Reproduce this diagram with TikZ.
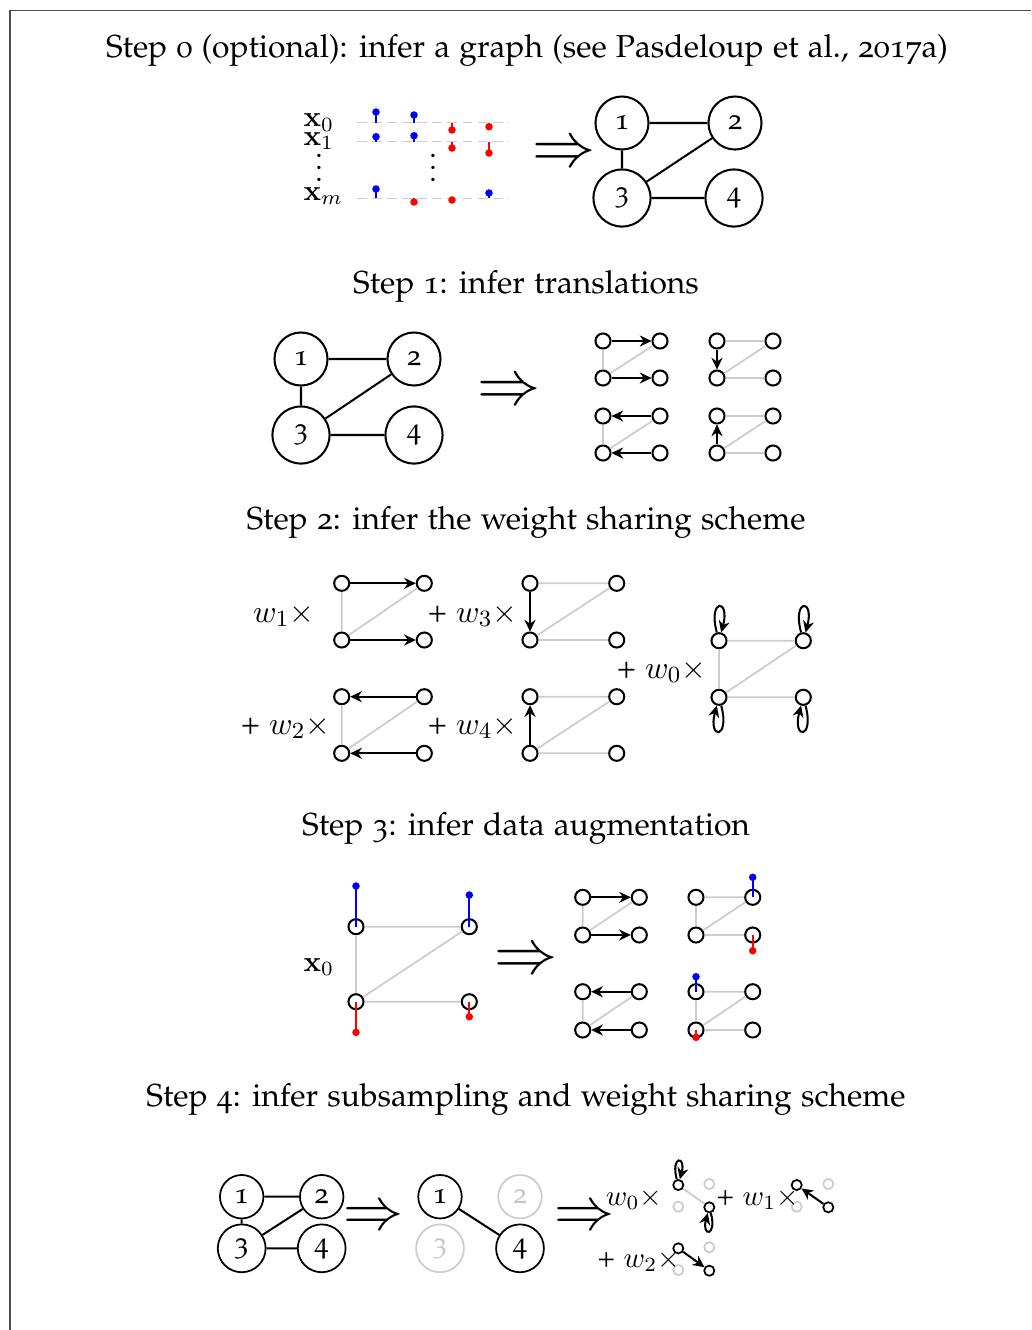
\documentclass[tikz,border=0pt]{standalone}
\usepackage[T1]{fontenc}
\usepackage{graphicx}
\renewcommand{\rmdefault}{pplj}
\usetikzlibrary{arrows.meta}
\newcommand{\elvn}{\fontsize{10.95}{13.6}\selectfont}
\tikzset{
 frame/.style={draw=black!70, line width=0.35pt},
 title/.style={anchor=base, inner sep=0pt, font=\elvn},
 bn/.style={circle, draw, line width=0.7pt, inner sep=0pt, fill=white},
 bnA/.style={bn, minimum size=18.3pt},
 bnB/.style={bn, minimum size=19.7pt},
 cnA/.style={bn, minimum size=15pt, line width=0.6pt},
 cnB/.style={bn, minimum size=16.5pt, line width=0.6pt},
 gry/.style={draw=gray!40, text=gray!45},
 sn/.style={circle, draw, line width=0.7pt, inner sep=0pt, minimum size=5.2pt, fill=white},
 tn/.style={circle, draw, line width=0.6pt, inner sep=0pt, minimum size=3.5pt},
 tng/.style={tn, draw=gray!40},
 ge/.style={draw=gray!40, line width=0.6pt},
 be/.style={line width=0.7pt},
 ar/.style={be, -{Stealth[length=4pt,width=3.8pt,inset=1.3pt]}},
 imp/.style={font=\huge, inner sep=0pt},
 dl/.style={draw=gray!40, line width=0.5pt, dash pattern=on 3.4pt off 1.8pt},
 stem/.style={line width=0.7pt},
 dot/.style={circle, inner sep=0pt, minimum size=2.6pt},
 lab/.style={inner sep=0pt},
 lab2/.style={inner sep=0pt, anchor=base east, font=\elvn},
}
\newcommand{\sgl}[5]{\coordinate (#1b) at (#2,#3); \node[dot, fill=#5] (#1d) at (#2,#4) {}; \draw[stem, draw=#5] (#1b) -- (#1d.center);}
\newcommand{\nsgl}[4]{\node[dot, fill=#4] (#1d) at (#3) {}; \draw[stem, draw=#4] (#2.center) -- (#1d.center);}
\newcommand{\sgraph}[5]{%
  \node[sn] (#1a) at (#2,#3) {};
  \node[sn] (#1b) at ({#2+#4},#3) {};
  \node[sn] (#1c) at (#2,{#3+#5}) {};
  \node[sn] (#1d) at ({#2+#4},{#3+#5}) {};
  \draw[ge] (#1a)--(#1b) (#1a)--(#1c) (#1c)--(#1b) (#1c)--(#1d);
}
\newcommand{\bigimp}{\scalebox{1.05}{$\Rightarrow$}}
\begin{document}
\begin{tikzpicture}[x=0.345pt,y=-0.345pt]
\useasboundingbox (0,0) rectangle (1031,1330);
\coordinate (fbl) at (10,1330); \coordinate (ftl) at (10,10); \coordinate (ftr) at (1031,10);
\draw[frame] (fbl)--(ftl)--(ftr);

% titles
\node[title] (t0) at (527,57) {Step 0 (optional): infer a graph (see Pasdeloup et al., 2017a)};
\node[title] (t1) at (526,293) {Step 1: infer translations};
\node[title] (t2) at (526,529) {Step 2: infer the weight sharing scheme};
\node[title] (t3) at (526,835) {Step 3: infer data augmentation};
\node[title] (t4) at (526,1106) {Step 4: infer subsampling and weight sharing scheme};

% ---------- Step 0
\node[lab, anchor=base west] (lx0) at (303,126.7) {$\mathbf{x}_0$};
\node[lab, anchor=base west] (lx1) at (303,145) {$\mathbf{x}_1$};
\node[lab, anchor=base] (lvd) at (319,181) {$\vdots$};
\node[lab, anchor=base west] (lxm) at (303,200) {$\mathbf{x}_m$};
\node[lab, anchor=base] (vd2) at (433,181) {$\vdots$};
\coordinate (d0a) at (357,122.7); \coordinate (d0b) at (508,122.7);
\coordinate (d1a) at (357,141.7); \coordinate (d1b) at (508,141.7);
\coordinate (dma) at (357,198.3); \coordinate (dmb) at (508,198.3);
\draw[dl] (d0a)--(d0b); \draw[dl] (d1a)--(d1b); \draw[dl] (dma)--(dmb);
\sgl{r0c1}{376}{122.7}{112}{blue}
\sgl{r0c2}{414}{122.7}{115}{blue}
\sgl{r0c3}{452}{122.7}{130}{red}
\sgl{r0c4}{489}{122.7}{126.7}{red}
\sgl{r1c1}{376}{141.7}{136.7}{blue}
\sgl{r1c2}{414}{141.7}{135.7}{blue}
\sgl{r1c3}{452}{141.7}{148}{red}
\sgl{r1c4}{489}{141.7}{153}{red}
\sgl{rmc1}{376}{198.3}{189}{blue}
\sgl{rmc2}{414}{198.3}{202}{red}
\sgl{rmc3}{452}{198.3}{200}{red}
\sgl{rmc4}{489}{198.3}{193}{blue}
\node[imp] (i0) at (564,155) {\bigimp};
\node[bnA] (g01) at (622,123) {1};
\node[bnA] (g02) at (735,123) {2};
\node[bnB] (g03) at (622,198) {3};
\node[bnB] (g04) at (734,198) {4};
\draw[be] (g01)--(g02) (g01)--(g03) (g03)--(g02) (g03)--(g04);

% ---------- Step 1
\node[bnA] (g11) at (301,359) {1};
\node[bnA] (g12) at (414,359) {2};
\node[bnB] (g13) at (301,435) {3};
\node[bnB] (g14) at (414,435) {4};
\draw[be] (g11)--(g12) (g11)--(g13) (g13)--(g12) (g13)--(g14);
\node[imp] (i1) at (509,393) {\bigimp};
\sgraph{sA}{603}{341}{57}{37}
\sgraph{sB}{717}{341}{56}{37}
\sgraph{sC}{603}{416}{57}{37}
\sgraph{sD}{717}{416}{56}{37}
\draw[ar] (sAa)--(sAb); \draw[ar] (sAc)--(sAd);
\draw[ar] (sBa)--(sBc);
\draw[ar] (sCb)--(sCa); \draw[ar] (sCd)--(sCc);
\draw[ar] (sDc)--(sDa);

% ---------- Step 2
\sgraph{wA}{341.7}{583.3}{82.6}{56.7}
\sgraph{wC}{530}{583.3}{86.7}{56.7}
\sgraph{wB}{341.7}{696.7}{82.6}{56.6}
\sgraph{wD}{530}{696.7}{86.7}{56.6}
\sgraph{wO}{719}{640.7}{84.3}{56.6}
\draw[ar] (wAa)--(wAb); \draw[ar] (wAc)--(wAd);
\draw[ar] (wCa)--(wCc);
\draw[ar] (wBb)--(wBa); \draw[ar] (wBd)--(wBc);
\draw[ar] (wDc)--(wDa);
\draw[ar] (wOa) to[loop above, min distance=4.3mm] (wOa);
\draw[ar] (wOb) to[loop above, min distance=4.3mm] (wOb);
\draw[ar] (wOc) to[loop below, min distance=4.3mm] (wOc);
\draw[ar] (wOd) to[loop below, min distance=4.3mm] (wOd);
\node[lab2] (lw1) at (315,622) {$w_1\times$};
\node[lab2] (lw3) at (518,622) {+ $w_3\times$};
\node[lab2] (lw2) at (331,734) {+ $w_2\times$};
\node[lab2] (lw4) at (518,734) {+ $w_4\times$};
\node[lab2] (lw0) at (707,678) {+ $w_0\times$};

% ---------- Step 3
\node[lab, anchor=base west] (lx03) at (303,971) {$\mathbf{x}_0$};
\sgraph{xA}{356}{926.7}{113.3}{75}
\nsgl{xAs1}{xAa}{356,886}{blue}
\nsgl{xAs2}{xAb}{469.3,895}{blue}
\nsgl{xAs3}{xAc}{356,1032.3}{red}
\nsgl{xAs4}{xAd}{469.3,1016.7}{red}
\node[imp] (i3) at (526,962) {\bigimp};
\sgraph{yA}{582.7}{897.3}{56.6}{37.7}
\sgraph{yB}{696}{897.3}{56.7}{37.7}
\sgraph{yC}{582.7}{991.7}{56.6}{38.3}
\sgraph{yD}{696}{991.7}{56.7}{38.3}
\draw[ar] (yAa)--(yAb); \draw[ar] (yAc)--(yAd);
\draw[ar] (yCb)--(yCa); \draw[ar] (yCd)--(yCc);
\nsgl{yBs1}{yBb}{752.7,877.3}{blue}
\nsgl{yBs2}{yBd}{752.7,950.7}{red}
\nsgl{yDs1}{yDa}{696,976.7}{blue}
\nsgl{yDs2}{yDc}{696,1037.3}{red}

% ---------- Step 4
\node[cnA] (h11) at (241.7,1196.7) {1};
\node[cnA] (h12) at (321.7,1196.7) {2};
\node[cnB] (h13) at (241.7,1248.3) {3};
\node[cnB] (h14) at (321.7,1248.3) {4};
\draw[be] (h11)--(h12) (h11)--(h13) (h13)--(h12) (h13)--(h14);
\node[imp] (i41) at (373.3,1218.3) {$\Rightarrow$};
\node[cnA] (h21) at (440,1196.7) {1};
\node[cnA, gry] (h22) at (520,1196.7) {2};
\node[cnB, gry] (h23) at (440,1248.3) {3};
\node[cnB] (h24) at (520,1248.3) {4};
\draw[be] (h21)--(h24);
\node[imp] (i42) at (585,1218.3) {$\Rightarrow$};
% w0 small graph
\node[tn] (u0a) at (678.3,1185) {};
\node[tng] (u0b) at (709.3,1184) {};
\node[tng] (u0c) at (678.3,1206.7) {};
\node[tn] (u0d) at (709.3,1207.3) {};
\draw[ge] (u0a)--(u0d);
\draw[ar] (u0a) to[loop above, min distance=3mm] (u0a);
\draw[ar] (u0d) to[loop below, min distance=3mm] (u0d);
% w1 small graph
\node[tn] (u1a) at (796.7,1185) {};
\node[tng] (u1b) at (828.3,1184) {};
\node[tng] (u1c) at (796.7,1206.7) {};
\node[tn] (u1d) at (828.3,1207.3) {};
\draw[ar] (u1d)--(u1a);
% w2 small graph
\node[tn] (u2a) at (678.3,1248.3) {};
\node[tng] (u2b) at (709.3,1247.3) {};
\node[tng] (u2c) at (678.3,1270) {};
\node[tn] (u2d) at (709.3,1270.7) {};
\draw[ar] (u2a)--(u2d);
\node[lab, anchor=base] (lv0) at (634,1205) {$w_0\times$};
\node[lab, anchor=base west] (lv1) at (716,1205) {+ $w_1\times$};
\node[lab, anchor=base west] (lv2) at (597,1267) {+ $w_2\times$};
\end{tikzpicture}
\end{document}
